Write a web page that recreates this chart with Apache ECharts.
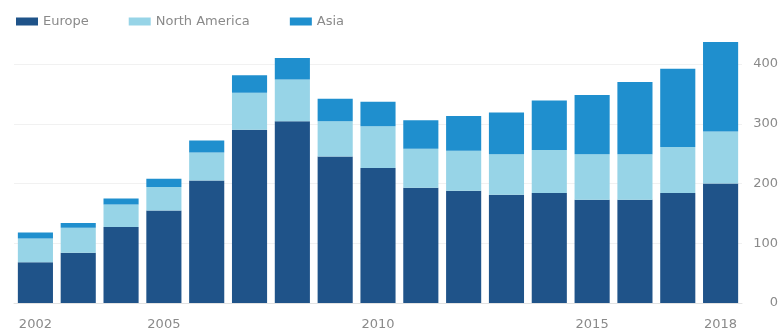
<!DOCTYPE html>
<html>
<head>
<meta charset="utf-8">
<script src="https://cdn.jsdelivr.net/npm/echarts@6/dist/echarts.min.js"></script>
<style>
  html, body { margin: 0; padding: 0; background: #fff; }
  #chart { width: 781px; height: 331px; }
</style>
</head>
<body>
<div id="chart"></div>
<script>
// Yearly totals by region, stacked
const years = ['2002','2003','2004','2005','2006','2007','2008','2009','2010',
               '2011','2012','2013','2014','2015','2016','2017','2018'];
const europe       = [68, 84, 127, 155, 205, 290, 304, 245, 226, 193, 188, 181, 184, 173, 173, 184, 200];
const northAmerica = [40, 42,  38,  39,  47,  62,  70,  59,  70,  65,  67,  68,  72,  76,  76,  77,  87];
const asia         = [10,  8,  10,  14,  20,  29,  36,  38,  41,  48,  58,  70,  83,  99, 121, 131, 150];
const yTicks = [0, 100, 200, 300, 400];
const shownYears = ['2002', '2005', '2010', '2015', '2018'];

const FONT = 'DejaVu Sans';
const chart = echarts.init(document.getElementById('chart'));

function barSeries(name, data, color) {
  return {
    name: name,
    type: 'bar',
    stack: 'total',
    data: data,
    clip: false,
    barCategoryGap: '18%',
    itemStyle: { color: color },
    emphasis: { disabled: true }
  };
}

chart.setOption({
  animation: false,
  textStyle: { fontFamily: FONT },
  legend: {
    left: 11,
    top: 10,
    itemWidth: 22,
    itemHeight: 8,
    itemGap: 40,
    icon: 'rect',
    textStyle: { color: '#8a8a8a', fontSize: 13, fontFamily: FONT },
    data: ['Europe', 'North America', 'Asia']
  },
  grid: { left: 14, right: 37, top: 64, bottom: 24.3 },
  xAxis: {
    type: 'category',
    data: years,
    axisLine: { lineStyle: { color: '#e2e2e2', width: 1 } },
    axisTick: {
      alignWithLabel: true,
      length: 5,
      interval: 0,
      lineStyle: { color: '#e6e6e6' }
    },
    axisLabel: {
      interval: 0,
      margin: 15,
      color: '#8a8a8a',
      fontSize: 13,
      fontFamily: FONT,
      formatter: v => shownYears.includes(v) ? v : ''
    }
  },
  yAxis: {
    type: 'value',
    position: 'right',
    min: yTicks[0],
    max: yTicks[yTicks.length - 1],
    interval: 100,
    axisLine: { show: false },
    axisTick: { show: false },
    splitLine: { lineStyle: { color: '#f1f1f1', width: 1 } },
    axisLabel: {
      align: 'right',
      margin: 36,
      color: '#8a8a8a',
      fontSize: 13,
      fontFamily: FONT
    }
  },
  series: [
    barSeries('Europe', europe, '#1f5389'),
    barSeries('North America', northAmerica, '#97d4e7'),
    barSeries('Asia', asia, '#1f8fce')
  ]
});
</script>
</body>
</html>
